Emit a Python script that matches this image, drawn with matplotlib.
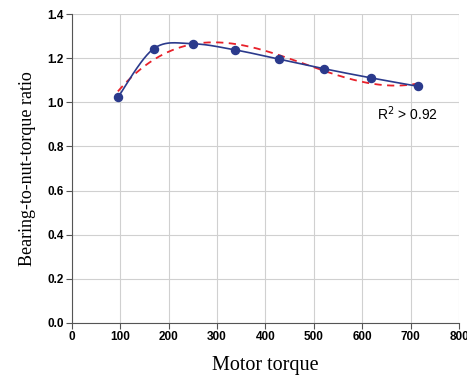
import numpy as np
import matplotlib
matplotlib.use("Agg")
import matplotlib.pyplot as plt

torque = [95, 169, 250, 338, 427, 521, 617, 716]
ratio = [1.022, 1.243, 1.265, 1.237, 1.196, 1.152, 1.111, 1.072]
xticks = [0, 100, 200, 300, 400, 500, 600, 700, 800]
yticks = [0.0, 0.2, 0.4, 0.6, 0.8, 1.0, 1.2, 1.4]

def catmull_rom(x, y, n=30, t=0.5):
    x = np.asarray(x, float); y = np.asarray(y, float)
    px = np.concatenate([[x[0]], x, [x[-1]]])
    py = np.concatenate([[y[0]], y, [y[-1]]])
    ox, oy = [], []
    s = np.linspace(0, 1, n)
    for i in range(1, len(px) - 2):
        p0 = np.array([px[i], py[i]]); p1 = np.array([px[i + 1], py[i + 1]])
        m0 = t * (np.array([px[i + 1], py[i + 1]]) - np.array([px[i - 1], py[i - 1]]))
        m1 = t * (np.array([px[i + 2], py[i + 2]]) - np.array([px[i], py[i]]))
        h00 = 2 * s**3 - 3 * s**2 + 1; h10 = s**3 - 2 * s**2 + s
        h01 = -2 * s**3 + 3 * s**2; h11 = s**3 - s**2
        pts = np.outer(h00, p0) + np.outer(h10, m0) + np.outer(h01, p1) + np.outer(h11, m1)
        ox.extend(pts[:, 0]); oy.extend(pts[:, 1])
    return np.array(ox), np.array(oy)

fig = plt.figure(figsize=(4.67, 3.79), dpi=100)
ax = fig.add_axes([0.154, 0.148, 0.829, 0.815])

ax.set_xlim(0, 800)
ax.set_ylim(0, 1.4)
ax.set_xticks(xticks)
ax.set_yticks(yticks)
ax.set_xticklabels([str(v) for v in xticks], fontweight="bold", fontsize=8.5, family="Liberation Sans")
ax.set_yticklabels([f"{v:.1f}" for v in yticks], fontweight="bold", fontsize=8.5, family="Liberation Sans")
ax.grid(True, color="#d0d0d0", linewidth=0.8)
ax.set_axisbelow(True)
for s in ["top", "right"]:
    ax.spines[s].set_visible(False)
for s in ["left", "bottom"]:
    ax.spines[s].set_color("#555555")
ax.tick_params(direction="out", length=4, color="#555555", pad=2)

# polynomial trendline
coef = np.polyfit(torque, ratio, 3)
xf = np.linspace(torque[0], torque[-1], 200)
ax.plot(xf, np.polyval(coef, xf), color="#e8202a", linestyle=(0, (4, 3)), linewidth=1.3, zorder=3)

sx, sy = catmull_rom(torque, ratio)
ax.plot(sx, sy, color="#2b3a8c", linewidth=1.2, zorder=4)
ax.plot(torque, ratio, "o", color="#2b3a8c", markersize=5.8, zorder=5)

ax.text(694, 0.95, r"R$^2$ > 0.92", fontsize=10, ha="center", va="center", family="Liberation Sans")

ax.set_xlabel("Motor torque", family="Liberation Serif", fontsize=14.5, labelpad=9)
ax.set_ylabel("Bearing-to-nut-torque ratio", family="Liberation Serif", fontsize=13, labelpad=8)

fig.savefig("out.png", dpi=100)
